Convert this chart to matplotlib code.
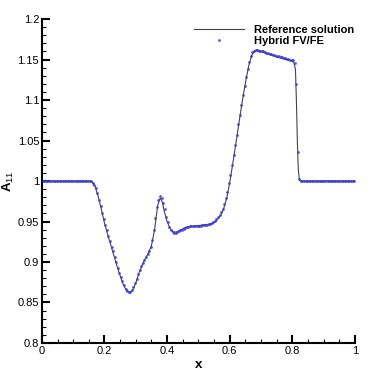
import numpy as np
import matplotlib
matplotlib.use("Agg")
import matplotlib.pyplot as plt
from matplotlib.ticker import MultipleLocator, FormatStrFormatter

plt.rcParams['font.family'] = ['Liberation Sans', 'DejaVu Sans']
plt.rcParams['mathtext.fontset'] = 'custom'
plt.rcParams['mathtext.rm'] = 'Liberation Sans'
plt.rcParams['mathtext.bf'] = 'Liberation Sans:bold'

# Reference solution (line)
ref_x = [0.0, 0.15, 0.16, 0.17, 0.18, 0.19, 0.20, 0.21, 0.22, 0.23, 0.24, 0.25,
         0.26, 0.27, 0.28, 0.29, 0.30, 0.31, 0.32, 0.33, 0.34, 0.35, 0.36, 0.37,
         0.378, 0.385, 0.39, 0.40, 0.41, 0.42, 0.43, 0.44, 0.45, 0.46, 0.48, 0.50,
         0.52, 0.54, 0.55, 0.56, 0.57, 0.58, 0.59, 0.60, 0.61, 0.62, 0.63, 0.64,
         0.65, 0.66, 0.67, 0.68, 0.69, 0.70, 0.72, 0.74, 0.76, 0.78, 0.80, 0.805,
         0.81, 0.813, 0.816, 0.819, 0.822, 0.826, 1.0]
ref_y = [1.0, 1.0, 0.999, 0.993, 0.981, 0.965, 0.948, 0.934, 0.921, 0.908, 0.895, 0.883,
         0.872, 0.865, 0.862, 0.865, 0.874, 0.886, 0.896, 0.904, 0.911, 0.920, 0.940, 0.970,
         0.979, 0.974, 0.964, 0.950, 0.941, 0.937, 0.937, 0.939, 0.941, 0.943, 0.944, 0.945,
         0.946, 0.947, 0.949, 0.952, 0.957, 0.965, 0.978, 0.998, 1.022, 1.047, 1.073, 1.098,
         1.121, 1.141, 1.155, 1.161, 1.162, 1.160, 1.157, 1.155, 1.152, 1.150, 1.148, 1.146,
         1.138, 1.100, 1.050, 1.015, 1.003, 1.000, 1.0]

# Hybrid FV/FE (cell values, dx = 0.005, centres at 0.0025 + k*0.005)
hyb_y = (
    [1.0, 1.0, 1.0, 1.0, 1.0, 1.0, 1.0, 1.0, 1.0, 1.0,
     1.0, 1.0, 1.0, 1.0, 1.0, 1.0, 1.0, 1.0, 1.0, 1.0,
     1.0, 1.0, 1.0, 1.0, 1.0, 1.0, 1.0, 1.0, 1.0, 1.0,
     1.0]  # 31 values, up to x=0.1525
    + [0.9995, 0.998, 0.995, 0.991, 0.985, 0.977, 0.969, 0.961, 0.953, 0.946,
       0.939, 0.932, 0.926, 0.919, 0.913, 0.906, 0.900, 0.893, 0.887, 0.881,
       0.876, 0.871, 0.867, 0.864, 0.863, 0.863, 0.865, 0.869, 0.874, 0.879,
       0.885, 0.890, 0.895, 0.899, 0.903, 0.906, 0.910, 0.914, 0.919, 0.927,
       0.939, 0.954, 0.968, 0.977, 0.981, 0.979, 0.973, 0.965, 0.956, 0.949,
       0.943, 0.939, 0.937, 0.936, 0.936, 0.937, 0.938, 0.939, 0.940, 0.941,
       0.942, 0.943, 0.943, 0.944, 0.944, 0.944, 0.945, 0.945, 0.945, 0.945,
       0.945, 0.946, 0.946, 0.946, 0.946, 0.947, 0.947, 0.948, 0.950, 0.951,
       0.953, 0.955, 0.958, 0.962, 0.966, 0.972, 0.979, 0.987, 0.997, 1.008,
       1.020, 1.032, 1.045, 1.057, 1.070, 1.082, 1.094, 1.106, 1.117, 1.128,
       1.138, 1.147, 1.154, 1.159, 1.161, 1.162, 1.162, 1.161, 1.161, 1.160,
       1.160, 1.159, 1.158, 1.158, 1.157, 1.157, 1.156, 1.156, 1.155, 1.154,
       1.154, 1.153, 1.153, 1.152, 1.152, 1.151, 1.151, 1.150, 1.150, 1.149,
       1.146, 1.120, 1.036, 1.003]
    + [1.0, 1.0, 1.0, 1.0, 1.0, 1.0, 1.0, 1.0, 1.0, 1.0,
       1.0, 1.0, 1.0, 1.0, 1.0, 1.0, 1.0, 1.0, 1.0, 1.0,
       1.0, 1.0, 1.0, 1.0, 1.0, 1.0, 1.0, 1.0, 1.0, 1.0,
       1.0, 1.0, 1.0, 1.0, 1.0]
)
hyb_x = 0.0025 + 0.005 * np.arange(len(hyb_y))

x_ticks = [0, 0.2, 0.4, 0.6, 0.8, 1]
y_ticks = [0.8, 0.85, 0.9, 0.95, 1.0, 1.05, 1.1, 1.15, 1.2]

fig = plt.figure(figsize=(3.74, 3.74), dpi=100)
ax = fig.add_axes([0.112, 0.083, 0.837, 0.866])

ax.plot(ref_x, ref_y, color='#444444', lw=0.8, label='Reference solution', zorder=2)
ax.plot(hyb_x, hyb_y, ls='none', marker='o', ms=2.0, mew=0, color='#3a3ad8',
        alpha=0.85, label='Hybrid FV/FE', zorder=3)

ax.set_xlim(0, 1)
ax.set_ylim(0.8, 1.2)
ax.set_xticks(x_ticks)
ax.set_yticks(y_ticks)
ax.xaxis.set_minor_locator(MultipleLocator(0.05))
ax.yaxis.set_minor_locator(MultipleLocator(0.01))
ax.xaxis.set_major_formatter(FormatStrFormatter('%g'))
ax.yaxis.set_major_formatter(FormatStrFormatter('%g'))

for s in ['top', 'right']:
    ax.spines[s].set_visible(False)
for s in ['left', 'bottom']:
    ax.spines[s].set_linewidth(1.5)

ax.tick_params(which='major', direction='in', length=6, width=1.5, labelsize=8, pad=2)
ax.tick_params(which='minor', direction='in', length=3, width=0.8)

ax.set_xlabel('x', fontsize=9.5, fontweight='bold', labelpad=2)
ax.set_ylabel(r'$\mathbf{A}_{11}$', fontsize=9.5, labelpad=1)

leg = ax.legend(loc='upper left', bbox_to_anchor=(0.462, 1.005), frameon=False,
                fontsize=8, handlelength=4.5, handletextpad=0.9, labelspacing=0.1,
                numpoints=1, borderaxespad=0.3)
for t in leg.get_texts():
    t.set_fontweight('bold')

fig.savefig('out.png', dpi=100)
